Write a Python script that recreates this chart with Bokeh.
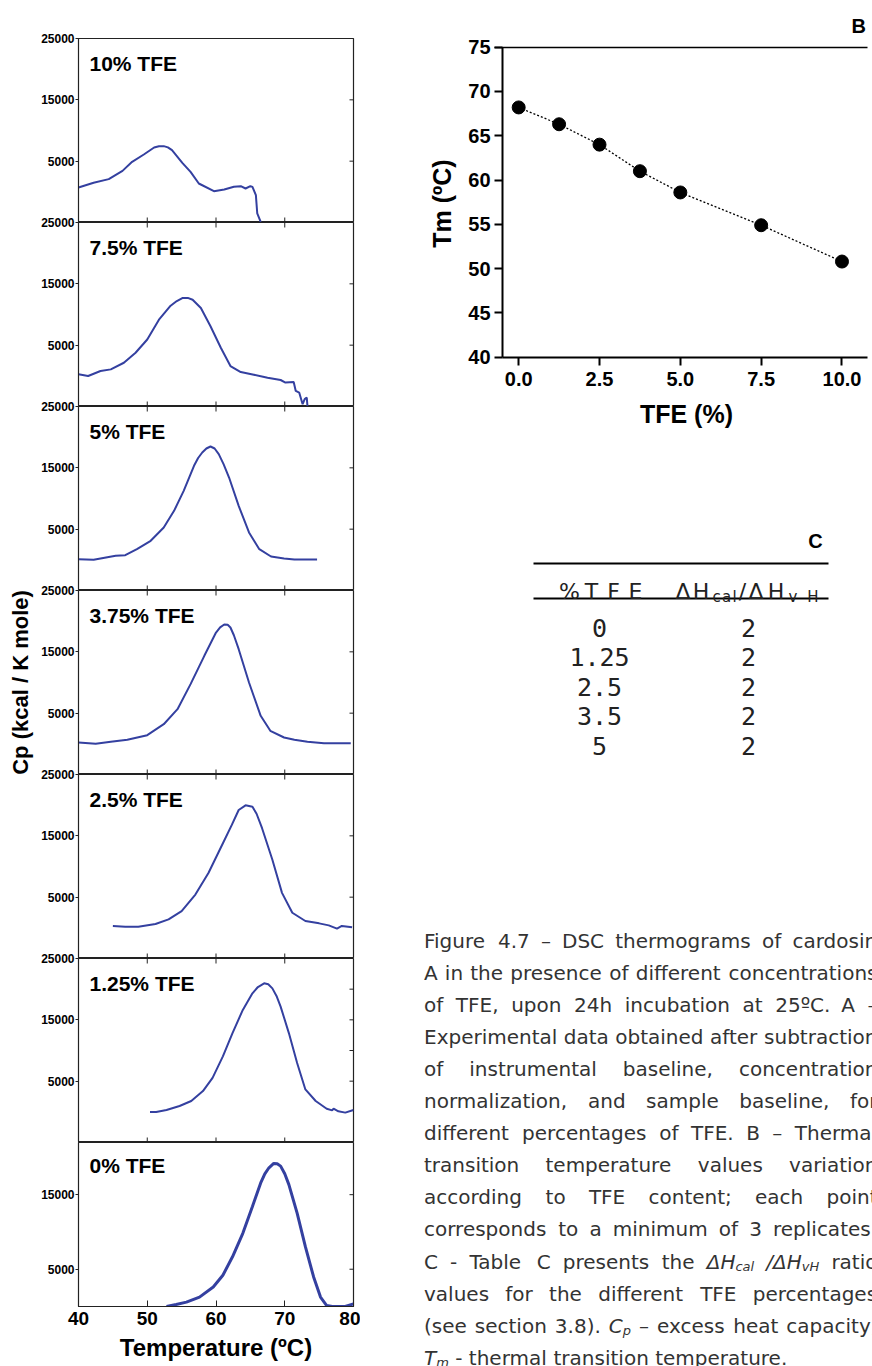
import re
import math
from bokeh.plotting import figure
from bokeh.models import Range1d, LinearAxis, FixedTicker, PrintfTickFormatter, Label
from bokeh.layouts import row, column
from bokeh.embed import file_html
from bokeh.resources import INLINE
from bokeh.core.properties import value

# ---------------- data: panel A (DSC thermograms) ----------------
panel_names = ["10% TFE", "7.5% TFE", "5% TFE", "3.75% TFE", "2.5% TFE", "1.25% TFE", "0% TFE"]

t10 = [40.0, 42.2, 44.4, 46.4, 47.8, 49.5, 51.0, 51.7, 52.4, 53.0, 53.6, 55.1, 56.3, 57.5, 59.7, 61.2, 62.6, 63.6, 64.3, 65.0, 65.3, 65.8, 66.0, 66.5]
cp10 = [710, 1470, 2070, 3420, 4890, 6090, 7230, 7420, 7450, 7250, 6800, 4730, 3260, 1360, 110, 380, 815, 920, 540, 920, 800, -540, -3530, -4900]

t75 = [40.0, 41.4, 43.2, 44.7, 46.6, 48.3, 50.0, 51.7, 53.4, 54.3, 55.1, 55.9, 56.6, 57.8, 59.2, 60.7, 62.1, 63.6, 65.5, 67.5, 69.4, 70.1, 71.3, 71.6, 72.1, 72.6, 72.9, 73.2, 73.3]
cp75 = [245, -30, 785, 1055, 2135, 3760, 5920, 9160, 11430, 12200, 12680, 12700, 12400, 11050, 8080, 4570, 1600, 620, 190, -300, -680, -1100, -1000, -2460, -2730, -4620, -3800, -3540, -4900]

t5 = [40.0, 42.2, 44.2, 45.4, 46.8, 48.5, 50.5, 52.4, 53.9, 55.3, 56.8, 57.4, 58.0, 58.6, 59.2, 59.8, 60.4, 61.1, 61.9, 63.3, 64.8, 66.3, 68.0, 69.9, 71.4, 73.3, 74.7]
cp5 = [110, 0, 435, 650, 760, 1740, 3100, 5270, 7990, 11250, 15330, 16600, 17500, 18150, 18480, 18150, 17230, 15600, 13420, 8800, 4460, 1740, 540, 220, 50, 50, 50]

t375 = [40.0, 42.5, 44.7, 47.1, 50.0, 52.4, 54.4, 56.3, 58.3, 60.0, 60.6, 61.2, 61.7, 62.1, 62.6, 63.3, 64.8, 66.5, 67.9, 69.9, 71.4, 73.3, 75.7, 79.6]
cp375 = [220, 0, 325, 650, 1410, 3200, 5650, 9730, 14350, 18150, 19000, 19460, 19400, 18970, 17700, 15430, 10000, 4570, 2120, 1030, 650, 330, 110, 110]

t25 = [45.0, 46.8, 48.7, 51.2, 53.1, 55.0, 57.0, 58.9, 60.9, 62.3, 63.3, 64.3, 65.3, 65.9, 66.7, 68.2, 69.6, 71.1, 73.0, 75.0, 76.4, 77.6, 78.3, 79.8]
cp25 = [300, 190, 190, 620, 1380, 2730, 5430, 8950, 13540, 16780, 19210, 19970, 19750, 18600, 16240, 11110, 5700, 2460, 1110, 730, 400, -130, 300, 80]

t125 = [50.4, 51.3, 52.8, 54.7, 56.4, 58.1, 59.5, 61.0, 62.4, 63.9, 65.3, 66.1, 67.0, 67.6, 68.2, 68.8, 69.4, 70.6, 71.8, 73.0, 74.5, 76.1, 76.9, 77.1, 77.8, 78.8, 80.0]
cp125 = [-30, -30, 300, 950, 1760, 3380, 5540, 9050, 12840, 16620, 19320, 20350, 20950, 20800, 20130, 18900, 17160, 12840, 7970, 3650, 1760, 510, 240, 510, 80, -130, 300]

t0 = [52.8, 54.2, 55.7, 57.6, 59.6, 61.0, 62.4, 63.9, 65.3, 66.5, 67.1, 67.7, 68.4, 68.9, 69.4, 70.0, 70.6, 71.8, 73.0, 74.2, 75.2, 76.1, 76.9, 78.8, 80.0]
cp0 = [0, 270, 590, 1260, 2610, 4190, 6670, 9820, 13420, 16580, 17800, 18610, 19190, 19150, 18830, 17800, 16350, 12520, 8020, 3960, 1260, 130, 0, 0, 360]

panel_T = [t10, t75, t5, t375, t25, t125, t0]
panel_Cp = [cp10, cp75, cp5, cp375, cp25, cp125, cp0]

cp_left_ticks = [5000, 15000, 25000]
cp_left_ticks_last = [5000, 15000]
cp_right_ticks_125 = [5000, 10000, 15000, 20000]
temp_ticks = [40, 50, 60, 70, 80]

# ---------------- data: panel B ----------------
tfe = [0.0, 1.25, 2.5, 3.75, 5.0, 7.5, 10.0]
tm = [68.2, 66.3, 64.0, 61.0, 58.6, 54.9, 50.8]
tfe_ticks = [0.0, 2.5, 5.0, 7.5, 10.0]
tm_ticks = [40, 45, 50, 55, 60, 65, 70, 75]

# ---------------- data: table C ----------------
tbl_tfe = ["0", "1.25", "2.5", "3.5", "5"]
tbl_ratio = ["2", "2", "2", "2", "2"]

# ---------------- caption ----------------
caption_lines = [
    "Figure 4.7 – DSC thermograms of cardosin",
    "A in the presence of different concentrations",
    "of TFE, upon 24h incubation at 25ºC. A –",
    "Experimental data obtained after subtraction",
    "of instrumental baseline, concentration",
    "normalization, and sample baseline, for",
    "different percentages of TFE. B – Thermal",
    "transition temperature values variation",
    "according to TFE content; each point",
    "corresponds to a minimum of 3 replicates.",
    "C - Table C presents the {i:ΔH}{s:cal} {i:/ΔH}{s:vH} ratio",
    "values for the different TFE percentages",
    "(see section 3.8). {i:C}{s:p} – excess heat capacity;",
    "{i:T}{s:m} - thermal transition temperature.",
]

FONT = "Liberation Sans"
CURVE = "#3440a0"
AXC = "#222222"

# ================= Panel A =================
panels = []
n = len(panel_names)
for i in range(n):
    first = i == 0
    last = i == n - 1
    frame_h = 164 if last else 184
    top = 38 if first else 7
    bottom = 60 if last else 0
    y0, y1 = (0, 22000) if last else (-5000, 25000)
    p = figure(width=360, height=top + frame_h + bottom,
               x_range=Range1d(40, 80), y_range=Range1d(y0, y1),
               x_axis_type=None, y_axis_type=None,
               toolbar_location=None, output_backend="svg",
               min_border_left=78, min_border_right=7,
               min_border_top=top, min_border_bottom=bottom,
               outline_line_color=AXC, outline_line_width=1.2,
               border_fill_color=None)
    if not first:
        p.margin = (-7, 0, 0, 0)

    lt = cp_left_ticks_last if last else cp_left_ticks
    la = LinearAxis(ticker=FixedTicker(ticks=lt),
                    axis_line_color=AXC, major_tick_line_color=AXC,
                    major_tick_out=3, major_tick_in=0, minor_tick_out=0, minor_tick_in=0,
                    major_label_standoff=1,
                    major_label_text_font=FONT, major_label_text_font_style="bold",
                    major_label_text_font_size="12px", major_label_text_color="black")
    if i == 3:
        la.axis_label = "Cp (kcal / K mole)"
        la.axis_label_text_font = FONT
        la.axis_label_text_font_style = "bold"
        la.axis_label_text_font_size = "22px"
        la.axis_label_text_color = "black"
        la.axis_label_standoff = 5
    p.add_layout(la, "left")

    # inward ticks on the right edge
    rt = cp_right_ticks_125 if i == 5 else lt
    p.ray(x=[temp_ticks[-1]] * len(rt), y=rt, length=4, length_units="screen",
          angle=math.pi, line_color=AXC, line_width=1)
    inner = temp_ticks[1:-1]
    if last:
        ba = LinearAxis(ticker=FixedTicker(ticks=temp_ticks),
                        axis_line_color=AXC, major_tick_line_color=AXC,
                        major_tick_out=0, major_tick_in=6, minor_tick_out=0, minor_tick_in=0,
                        major_label_standoff=5,
                        major_label_text_font=FONT, major_label_text_font_style="bold",
                        major_label_text_font_size="19px", major_label_text_color="black",
                        axis_label="Temperature (ºC)", axis_label_text_font=FONT,
                        axis_label_text_font_style="bold", axis_label_text_font_size="24px",
                        axis_label_text_color="black", axis_label_standoff=6)
        p.add_layout(ba, "below")
    else:
        p.ray(x=inner, y=[y0] * len(inner), length=5, length_units="screen",
              angle=math.pi / 2, line_color=AXC, line_width=1)
    if not first and not last:
        p.ray(x=inner, y=[y1] * len(inner), length=5, length_units="screen",
              angle=-math.pi / 2, line_color=AXC, line_width=1)

    p.line(panel_T[i], panel_Cp[i], line_color=CURVE, line_width=3 if last else 2)

    lab_y = 18900 if last else 21000
    p.add_layout(Label(x=41.6, y=lab_y, text=panel_names[i], text_font=FONT,
                       text_font_style="bold", text_font_size="21px",
                       text_baseline="middle", text_color="black"))
    if first:
        p.add_layout(Label(x=77.4, y=27450, text="A", text_font=FONT,
                           text_font_style="bold", text_font_size="20px",
                           text_align="center", text_baseline="middle", text_color="black"))
    panels.append(p)

# ================= Panel B =================
# The frame spans page x 423..872 (shared with the text block below) and the whole
# height; the axes are pinned at TFE = -0.5 and Tm = 40 / 75.
pb = figure(width=512, height=440, x_range=Range1d(-2.944, 10.944), y_range=Range1d(30.595, 80.273),
            x_axis_type=None, y_axis_type=None, toolbar_location=None, output_backend="svg",
            min_border_left=63, min_border_right=0, min_border_top=0, min_border_bottom=0,
            outline_line_color=None)
lb = LinearAxis(ticker=FixedTicker(ticks=tm_ticks), fixed_location=-0.5, bounds=(40, 75),
                axis_line_width=2, axis_line_color="black",
                major_tick_out=8, major_tick_in=0, major_tick_line_width=2,
                minor_tick_out=0, minor_tick_in=0, major_label_standoff=4,
                major_label_text_font=FONT, major_label_text_font_style="bold",
                major_label_text_font_size="20px", major_label_text_color="black")
pb.add_layout(lb, "left")
bb = LinearAxis(ticker=FixedTicker(ticks=tfe_ticks), formatter=PrintfTickFormatter(format="%.1f"),
                fixed_location=40, bounds=(-0.5, 10.8), axis_line_width=2, axis_line_color="black",
                major_tick_out=8, major_tick_in=0, major_tick_line_width=2,
                minor_tick_out=0, minor_tick_in=0, major_label_standoff=7,
                major_label_text_font=FONT, major_label_text_font_style="bold",
                major_label_text_font_size="20px", major_label_text_color="black")
pb.add_layout(bb, "below")
tb = LinearAxis(ticker=FixedTicker(ticks=[]), fixed_location=75, bounds=(-0.75, 10.8),
                axis_line_width=1.7, axis_line_color="black",
                major_tick_out=0, major_tick_in=0, minor_tick_out=0, minor_tick_in=0)
pb.add_layout(tb, "above")
pb.text(x=[-2.36], y=[57.35], text=["Tm (ºC)"], angle=math.pi / 2, text_font=value(FONT),
        text_font_style="bold", text_font_size=value("25px"), text_align="center",
        text_baseline="middle", text_color="black")
pb.text(x=[5.19], y=[33.64], text=["TFE (%)"], text_font=value(FONT),
        text_font_style="bold", text_font_size=value("25px"), text_align="center",
        text_baseline="middle", text_color="black")
pb.text(x=[10.52], y=[77.45], text=["B"], text_font=value(FONT),
        text_font_style="bold", text_font_size=value("20px"), text_align="center",
        text_baseline="middle", text_color="black")
pb.line(tfe, tm, line_dash="2 2", line_color="black", line_width=1.3)
pb.scatter(tfe, tm, size=13, color="black")

# ================= Table C + caption =================
# frame spans page x 423..872 and y 440..1366, so data units equal page pixels
pt = figure(width=512, height=926, x_range=Range1d(423, 872), y_range=Range1d(1366, 440),
            x_axis_type=None, y_axis_type=None, toolbar_location=None, output_backend="svg",
            min_border_left=63, min_border_right=0, min_border_top=0, min_border_bottom=0,
            outline_line_color=None, border_fill_color=None)

pt.text(x=[815], y=[540], text=["C"], text_font=value(FONT), text_font_style="bold",
        text_font_size=value("20px"), text_align="center", text_baseline="middle", text_color="black")
pt.segment(x0=[533, 533], y0=[563, 598], x1=[828, 828], y1=[563, 598],
           line_color="black", line_width=2)

hdr_main = [("%", 569), ("T", 591), ("F", 613), ("E", 635), ("Δ", 682.5), ("H", 700.5),
            ("/", 742), ("Δ", 755.5), ("H", 775.5)]
hdr_sub = [("c", 716), ("a", 726), ("l", 734), ("v", 792.5), ("H", 812.5)]
pt.text(x=[h[1] for h in hdr_main], y=[591] * len(hdr_main), text=[h[0] for h in hdr_main],
        text_font=value("DejaVu Sans"), text_font_size=value("22px"), text_align="center",
        text_baseline="alphabetic", text_color="#222222")
pt.text(x=[h[1] for h in hdr_sub], y=[596] * len(hdr_sub), text=[h[0] for h in hdr_sub],
        text_font=value("DejaVu Sans"), text_font_size=value("15px"), text_align="center",
        text_baseline="alphabetic", text_color="#222222")

row_y = [627 + 29.5 * k for k in range(len(tbl_tfe))]
pt.text(x=[599] * len(tbl_tfe), y=row_y, text=tbl_tfe, text_font=value("DejaVu Sans Mono"),
        text_font_size=value("25px"), text_align="center", text_baseline="alphabetic",
        text_color="#222222")
pt.text(x=[748] * len(tbl_ratio), y=row_y, text=tbl_ratio, text_font=value("DejaVu Sans Mono"),
        text_font_size=value("25px"), text_align="center", text_baseline="alphabetic",
        text_color="#222222")

# caption layout (justified) using approximate DejaVu Sans advance widths
EM = {' ': .318, 'a': .613, 'b': .635, 'c': .550, 'd': .635, 'e': .615, 'f': .352, 'g': .635,
      'h': .634, 'i': .278, 'j': .278, 'k': .579, 'l': .278, 'm': .974, 'n': .634, 'o': .612,
      'p': .635, 'q': .635, 'r': .411, 's': .521, 't': .392, 'u': .634, 'v': .592, 'w': .818,
      'x': .592, 'y': .592, 'z': .525, 'A': .684, 'B': .686, 'C': .698, 'D': .770, 'E': .632,
      'F': .575, 'H': .752, 'T': .611, 'S': .635, 'M': .863, '.': .318, ',': .318, ';': .337,
      ':': .337, '(': .390, ')': .390, '-': .361, '–': .500, '/': .337, 'º': .384, '%': .950,
      'Δ': .684}
for d in "0123456789":
    EM[d] = .636
SIZE = {"n": 20, "i": 20, "s": 13}
STYLE = {"n": "normal", "i": "italic", "s": "italic"}
SEG = re.compile(r"\{(i|s):([^}]*)\}|([^{]+)")


def seg_w(kind, s):
    return sum(EM.get(ch, 0.6) for ch in s) * SIZE[kind]


X0, X1, BASE0, LEAD = 423.5, 877.0, 940.0, 32.1
cap = {k: ([], [], []) for k in SIZE}
for li, line in enumerate(caption_lines):
    words = []
    for w in line.split(" "):
        segs = []
        for m in SEG.finditer(w):
            if m.group(3):
                segs.append(("n", m.group(3)))
            else:
                segs.append((m.group(1), m.group(2)))
        words.append(segs)
    widths = [sum(seg_w(k, s) for k, s in segs) for segs in words]
    justified = li < len(caption_lines) - 1
    gap = (X1 - X0 - sum(widths)) / (len(words) - 1) if justified else EM[' '] * 20
    y = BASE0 + LEAD * li
    x = X0
    for segs, wd in zip(words, widths):
        xx = x
        for k, s in segs:
            cap[k][0].append(xx)
            cap[k][1].append(y + (5 if k == "s" else 0))
            cap[k][2].append(s)
            xx += seg_w(k, s)
        x += wd + gap

for k in ("n", "i", "s"):
    xs, ys, ts = cap[k]
    pt.text(x=xs, y=ys, text=ts, text_font=value("DejaVu Sans"), text_font_style=STYLE[k],
            text_font_size=value("%dpx" % SIZE[k]), text_align="left",
            text_baseline="alphabetic", text_color="#333333")

layout = row(column(*panels), column(pb, pt))
open("out.html", "w").write(file_html(layout, INLINE))
